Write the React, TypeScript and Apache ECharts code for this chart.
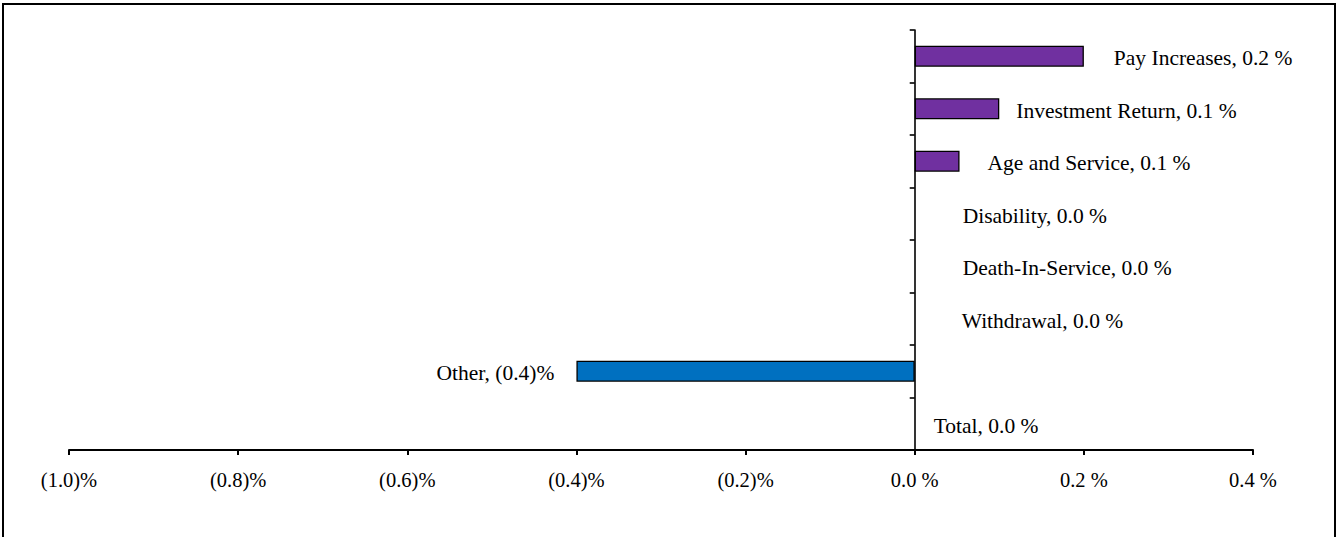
import React, { useEffect, useRef } from "react";
import * as echarts from "echarts";

const categories = [
  "Pay Increases",
  "Investment Return",
  "Age and Service",
  "Disability",
  "Death-In-Service",
  "Withdrawal",
  "Other",
  "Total",
];
const values = [0.2, 0.1, 0.053, 0, 0, 0, -0.4, 0];
const axisMin = -1.0;
const axisMax = 0.4;
const axisStep = 0.2;

// label gap from bar end (styling)
const labelGaps = [30, 17, 28, 48, 48, 47, 22, 19];

const POS_COLOR = "#7030A0";
const NEG_COLOR = "#0070C0";
const FONT = "'Liberation Serif', 'Times New Roman', serif";

function fmt(v: number): string {
  const a = Math.abs(v).toFixed(1);
  return v < -1e-9 ? `(${a})%` : `${a} %`;
}

export default function App() {
  const ref = useRef<HTMLDivElement>(null);

  useEffect(() => {
    if (!ref.current) return;
    const chart = echarts.init(ref.current, null, { renderer: "svg" });
    const data = values.map((v, i) => ({
      value: v,
      itemStyle: {
        color: v < 0 ? NEG_COLOR : POS_COLOR,
        borderColor: "#000",
        borderWidth: v === 0 ? 0 : 1.3,
      },
      label: {
        show: true,
        position: v < 0 ? "left" : "right",
        distance: labelGaps[i],
        offset: [0, 2],
        formatter: () => `${categories[i]}, ${fmt(v)}`,
      },
    }));
    chart.setOption({
      animation: false,
      backgroundColor: "#fff",
      grid: { left: 69, right: 85, top: 30, bottom: 87, containLabel: false },
      xAxis: {
        type: "value",
        min: axisMin,
        max: axisMax,
        interval: axisStep,
        axisLine: { show: true, lineStyle: { color: "#000", width: 2 } },
        axisTick: { show: true, inside: false, length: 5, lineStyle: { color: "#000", width: 2 } },
        splitLine: { show: false },
        axisLabel: {
          formatter: (v: number) => fmt(v),
          color: "#000",
          fontFamily: FONT,
          fontSize: 20.5,
          margin: 19,
        },
      },
      yAxis: {
        type: "category",
        data: categories,
        inverse: true,
        axisLine: { show: true, onZero: true, lineStyle: { color: "#000", width: 1.6 } },
        axisTick: { show: true, inside: false, length: 5, lineStyle: { color: "#000", width: 1.6 } },
        axisLabel: { show: false },
        splitLine: { show: false },
      },
      series: [
        {
          type: "bar",
          data,
          barWidth: 21,
          label: {
            show: true,
            color: "#000",
            fontFamily: FONT,
            fontSize: 21.5,
          },
        },
      ],
      graphic: [
        {
          type: "rect",
          shape: { x: 3, y: 4, width: 1332, height: 560 },
          style: { fill: "none", stroke: "#000", lineWidth: 2 },
          silent: true,
          z: 100,
        },
      ],
    });
    return () => chart.dispose();
  }, []);

  return (
    <div
      ref={ref}
      style={{ position: "fixed", left: 0, top: 0, width: 1338, height: 537, background: "#fff" }}
    />
  );
}
